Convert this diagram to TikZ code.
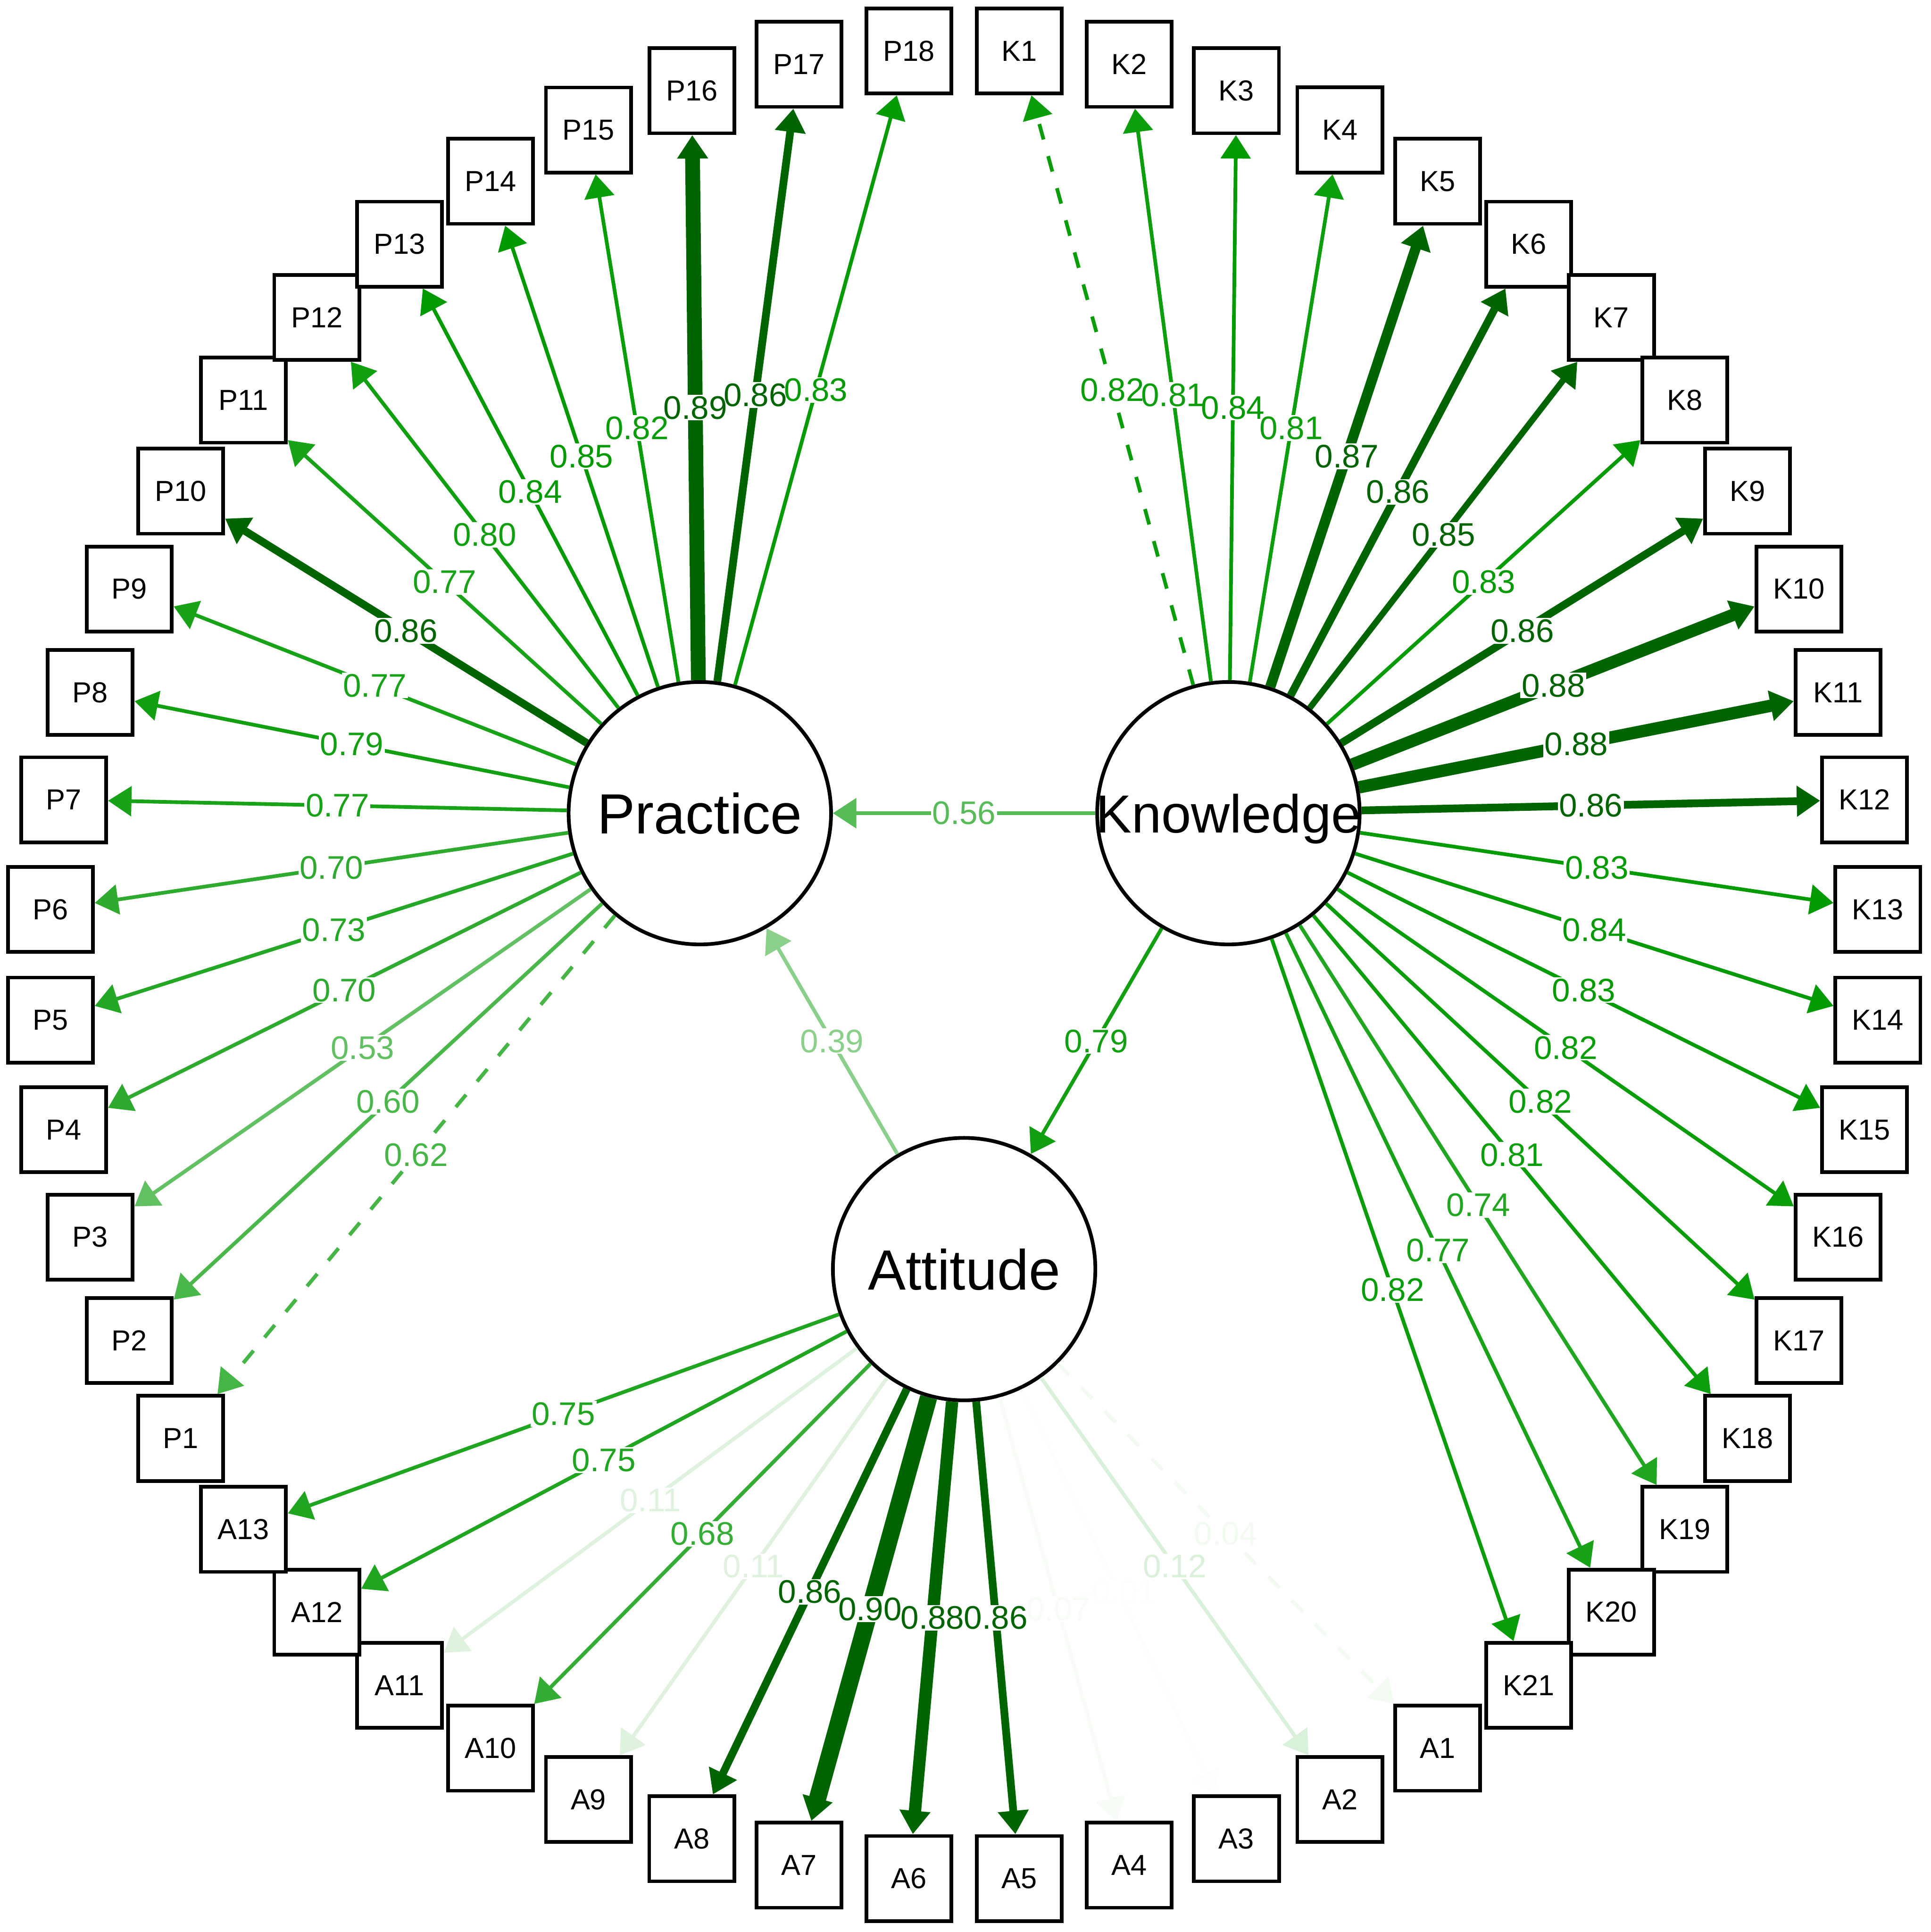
\documentclass[tikz,border=0pt]{standalone}
\usepackage{fontspec}
\setmainfont{Liberation Sans}
\usetikzlibrary{arrows.meta}
\definecolor{gA}{RGB}{0,153,0}
\definecolor{gD}{RGB}{0,100,0}
\tikzset{
  lat/.style={circle, draw=black, line width=3pt, fill=white, minimum size=213pt, inner sep=0pt},
  obs/.style={rectangle, draw=black, line width=3pt, fill=white, minimum size=69pt, inner sep=0pt, font=\fontsize{23.5}{26}\selectfont},
  ldg/.style={-{Triangle[length=19pt,width=24pt]}},
  elab/.style={inner sep=1pt, font=\fontsize{26.5}{28}\selectfont},
  dsh/.style={dash pattern=on 13pt off 14pt},
}
\newcommand\EdgeDraw[6]{\draw[ldg, color=#4, line width=#5, #6] (#1) -- (#2);}
\newcommand\EdgeBg[6]{\path (#1) -- (#2) node[elab, midway, fill=white, text opacity=0] {#3};}
\newcommand\EdgeTx[6]{\path (#1) -- (#2) node[elab, midway, text=#4] (L#1#2) {#3};}
\newcommand\EdgeList{%
  \E{Kn}{K1}{0.82}{gA!96!white}{3pt}{dsh}%
  \E{Kn}{K2}{0.81}{gA!95!white}{3pt}{}%
  \E{Kn}{K3}{0.84}{gA!99!white}{3pt}{}%
  \E{Kn}{K4}{0.81}{gA!95!white}{3pt}{}%
  \E{Kn}{K5}{0.87}{gD}{8.3pt}{}%
  \E{Kn}{K6}{0.86}{gD}{6.3pt}{}%
  \E{Kn}{K7}{0.85}{gD}{5pt}{}%
  \E{Kn}{K8}{0.83}{gA!98!white}{3pt}{}%
  \E{Kn}{K9}{0.86}{gD}{6.3pt}{}%
  \E{Kn}{K10}{0.88}{gD}{10pt}{}%
  \E{Kn}{K11}{0.88}{gD}{10pt}{}%
  \E{Kn}{K12}{0.86}{gD}{6.3pt}{}%
  \E{Kn}{K13}{0.83}{gA!98!white}{3pt}{}%
  \E{Kn}{K14}{0.84}{gA!99!white}{3pt}{}%
  \E{Kn}{K15}{0.83}{gA!98!white}{3pt}{}%
  \E{Kn}{K16}{0.82}{gA!96!white}{3pt}{}%
  \E{Kn}{K17}{0.82}{gA!96!white}{3pt}{}%
  \E{Kn}{K18}{0.81}{gA!95!white}{3pt}{}%
  \E{Kn}{K19}{0.74}{gA!87!white}{3pt}{}%
  \E{Kn}{K20}{0.77}{gA!91!white}{3pt}{}%
  \E{Kn}{K21}{0.82}{gA!96!white}{3pt}{}%
  \E{At}{A1}{0.04}{gA!5!white}{3pt}{dsh}%
  \E{At}{A2}{0.12}{gA!15!white}{3pt}{}%
  \E{At}{A3}{-0.01}{gA!1!white}{3pt}{}%
  \E{At}{A4}{0.07}{gA!3!white}{3pt}{}%
  \E{At}{A5}{0.86}{gD}{6.3pt}{}%
  \E{At}{A6}{0.88}{gD}{10pt}{}%
  \E{At}{A7}{0.90}{gD}{14pt}{}%
  \E{At}{A8}{0.86}{gD}{6.3pt}{}%
  \E{At}{A9}{0.11}{gA!13!white}{3pt}{}%
  \E{At}{A10}{0.68}{gA!80!white}{3pt}{}%
  \E{At}{A11}{0.11}{gA!13!white}{3pt}{}%
  \E{At}{A12}{0.75}{gA!88!white}{3pt}{}%
  \E{At}{A13}{0.75}{gA!88!white}{3pt}{}%
  \E{Pr}{P1}{0.62}{gA!73!white}{3pt}{dsh}%
  \E{Pr}{P2}{0.60}{gA!71!white}{3pt}{}%
  \E{Pr}{P3}{0.53}{gA!62!white}{3pt}{}%
  \E{Pr}{P4}{0.70}{gA!82!white}{3pt}{}%
  \E{Pr}{P5}{0.73}{gA!86!white}{3pt}{}%
  \E{Pr}{P6}{0.70}{gA!82!white}{3pt}{}%
  \E{Pr}{P7}{0.77}{gA!91!white}{3pt}{}%
  \E{Pr}{P8}{0.79}{gA!93!white}{3pt}{}%
  \E{Pr}{P9}{0.77}{gA!91!white}{3pt}{}%
  \E{Pr}{P10}{0.86}{gD}{6.3pt}{}%
  \E{Pr}{P11}{0.77}{gA!91!white}{3pt}{}%
  \E{Pr}{P12}{0.80}{gA!94!white}{3pt}{}%
  \E{Pr}{P13}{0.84}{gA!99!white}{3pt}{}%
  \E{Pr}{P14}{0.85}{gA}{3pt}{}%
  \E{Pr}{P15}{0.82}{gA!96!white}{3pt}{}%
  \E{Pr}{P16}{0.89}{gD}{12pt}{}%
  \E{Pr}{P17}{0.86}{gD}{6.3pt}{}%
  \E{Pr}{P18}{0.83}{gA!98!white}{3pt}{}%
  \E{Kn}{Pr}{0.56}{gA!66!white}{3pt}{}%
  \E{At}{Pr}{0.39}{gA!46!white}{3pt}{}%
  \E{Kn}{At}{0.79}{gA!93!white}{3pt}{}%
}
\begin{document}
\begin{tikzpicture}[x=1pt,y=1pt]
\useasboundingbox (-782.5,-785) rectangle (784.5,783);
% observed indicators on the outer ring
\foreach \j in {1,...,21}{\node[obs] (K\j) at ({86.5385-6.92308*(\j-1)}:743pt) {K\j};}
\foreach \j in {1,...,13}{\node[obs] (A\j) at ({86.5385-6.92308*(\j+20)}:743pt) {A\j};}
\foreach \j in {1,...,18}{\node[obs] (P\j) at ({86.5385-6.92308*(\j+33)}:743pt) {P\j};}
% latent variables
\node[lat, font=\fontsize{46}{50}\selectfont, text depth=0pt] (Pr) at (-214.5,123) {\makebox[0pt]{Practice}};
\node[lat, font=\fontsize{43.5}{48}\selectfont, text depth=0pt] (Kn) at (214.5,123) {\makebox[0pt]{Knowledge}};
\node[lat, font=\fontsize{46}{50}\selectfont, text depth=0pt] (At) at (0,-247) {\makebox[0pt]{Attitude}};
% edges: lines, label backgrounds, label texts
\let\E\EdgeDraw \EdgeList
\let\E\EdgeBg \EdgeList
\let\E\EdgeTx \EdgeList
\end{tikzpicture}
\end{document}
